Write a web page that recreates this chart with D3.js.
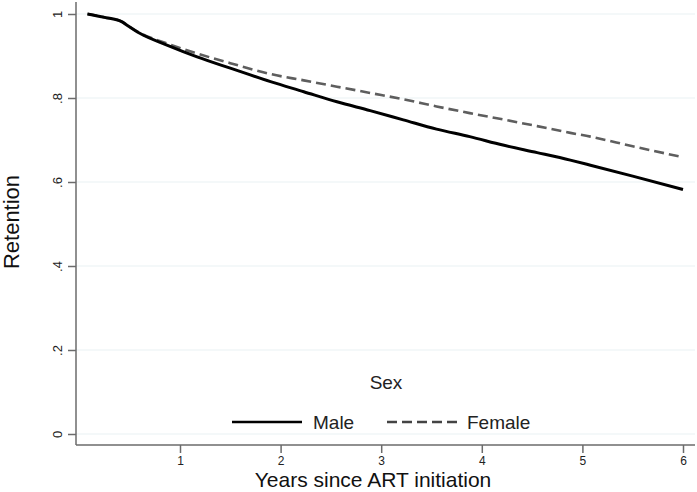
<!DOCTYPE html>
<html>
<head>
<meta charset="utf-8">
<script src="https://cdn.jsdelivr.net/npm/d3@7"></script>
<style>
  html, body { margin: 0; padding: 0; background: #fff; }
  svg { display: block; font-family: "Liberation Sans", Arial, sans-serif; }
</style>
</head>
<body>
<svg id="chart" width="697" height="492"></svg>
<script>
// ---- data ----
const years = [0.08, 0.25, 0.42, 0.47, 0.60, 0.87, 1.17, 1.50, 1.90, 2.23, 2.56, 2.89, 3.22, 3.55, 3.88, 4.21, 4.55, 4.88, 5.08, 5.50, 6.00];
const maleRetention = [1.000, 0.992, 0.982, 0.974, 0.954, 0.926, 0.898, 0.871, 0.839, 0.815, 0.791, 0.770, 0.748, 0.726, 0.708, 0.688, 0.670, 0.652, 0.640, 0.614, 0.582];
const femaleRetention = [1.000, 0.992, 0.982, 0.974, 0.955, 0.930, 0.906, 0.883, 0.857, 0.842, 0.827, 0.812, 0.797, 0.780, 0.764, 0.749, 0.733, 0.717, 0.708, 0.685, 0.659];
const xTicks = [1, 2, 3, 4, 5, 6];
const yTicks = [0, 0.2, 0.4, 0.6, 0.8, 1];
const yTickLabels = ["0", ".2", ".4", ".6", ".8", "1"];
const seriesNames = ["Male", "Female"];
const legendTitle = "Sex";
const xTitle = "Years since ART initiation";
const yTitle = "Retention";

// ---- layout ----
const svg = d3.select("#chart");
const plotLeft = 76, plotRight = 695, plotTop = 2, plotBottom = 445;

const x = d3.scaleLinear().domain([0, 6]).range([79.4, 683]);
const y = d3.scaleLinear().domain([0, 1]).range([434, 14]);

const axisColor = "#6b6b6b";
const gridColor = "#eaf2f3";

// gridlines
svg.append("g").selectAll("line")
  .data(yTicks)
  .join("line")
  .attr("x1", plotLeft).attr("x2", plotRight)
  .attr("y1", d => y(d)).attr("y2", d => y(d))
  .attr("stroke", gridColor).attr("stroke-width", 1.2);

// y axis
const yAxis = svg.append("g")
  .attr("transform", `translate(${plotLeft},0)`)
  .call(d3.axisLeft(y).tickValues(yTicks).tickSize(8).tickFormat((d, i) => yTickLabels[i]));
yAxis.select(".domain").remove();
yAxis.selectAll(".tick line").attr("stroke", axisColor).attr("stroke-width", 1.5);
yAxis.selectAll(".tick text")
  .attr("x", null).attr("dy", "0.35em")
  .attr("text-anchor", "middle")
  .attr("transform", "translate(-19,0) rotate(-90)")
  .attr("fill", "#222")
  .style("font-size", "13px")
  .style("font-family", "Liberation Sans, Arial, sans-serif");

// x axis
const xAxis = svg.append("g")
  .attr("transform", `translate(0,${plotBottom})`)
  .call(d3.axisBottom(x).tickValues(xTicks).tickSize(8).tickFormat(d3.format("d")));
xAxis.select(".domain").remove();
xAxis.selectAll(".tick line").attr("stroke", axisColor).attr("stroke-width", 1.5);
xAxis.selectAll(".tick text")
  .attr("y", 11)
  .attr("fill", "#222")
  .style("font-size", "12px")
  .style("font-family", "Liberation Sans, Arial, sans-serif");

// axis lines
svg.append("line")
  .attr("x1", plotLeft).attr("x2", plotLeft)
  .attr("y1", plotTop).attr("y2", plotBottom)
  .attr("stroke", axisColor).attr("stroke-width", 1.5);
svg.append("line")
  .attr("x1", plotLeft).attr("x2", plotRight)
  .attr("y1", plotBottom).attr("y2", plotBottom)
  .attr("stroke", axisColor).attr("stroke-width", 1.5);

// lines
const line = d3.line().x(d => x(d[0])).y(d => y(d[1])).curve(d3.curveMonotoneX);
const femaleData = years.map((t, i) => [t, femaleRetention[i]]);
const maleData = years.map((t, i) => [t, maleRetention[i]]);

svg.append("path")
  .datum(femaleData)
  .attr("d", line)
  .attr("fill", "none")
  .attr("stroke", "#5e5e5e")
  .attr("stroke-width", 2.6)
  .attr("stroke-dasharray", "10,5");

svg.append("path")
  .datum(maleData)
  .attr("d", line)
  .attr("fill", "none")
  .attr("stroke", "#000")
  .attr("stroke-width", 3)
  .attr("stroke-linejoin", "round");

// axis titles
svg.append("text")
  .attr("x", 373).attr("y", 487)
  .attr("text-anchor", "middle")
  .attr("fill", "#111")
  .style("font-size", "21px")
  .text(xTitle);

svg.append("text")
  .attr("transform", "translate(18.5,222) rotate(-90)")
  .attr("text-anchor", "middle")
  .attr("fill", "#111")
  .style("font-size", "22px")
  .text(yTitle);

// legend
const legend = svg.append("g");
legend.append("text")
  .attr("x", 386).attr("y", 389)
  .attr("text-anchor", "middle")
  .attr("fill", "#222")
  .style("font-size", "19px")
  .text(legendTitle);

const legendItems = [
  { name: seriesNames[0], x1: 232, x2: 302, tx: 313, stroke: "#000", dash: null, w: 2.4 },
  { name: seriesNames[1], x1: 387, x2: 457, tx: 467, stroke: "#444", dash: "10,5", w: 2.4 }
];
legendItems.forEach(it => {
  legend.append("line")
    .attr("x1", it.x1).attr("x2", it.x2)
    .attr("y1", 422).attr("y2", 422)
    .attr("stroke", it.stroke).attr("stroke-width", it.w)
    .attr("stroke-dasharray", it.dash);
  legend.append("text")
    .attr("x", it.tx).attr("y", 429)
    .attr("fill", "#222")
    .style("font-size", "19px")
    .text(it.name);
});
</script>
</body>
</html>
